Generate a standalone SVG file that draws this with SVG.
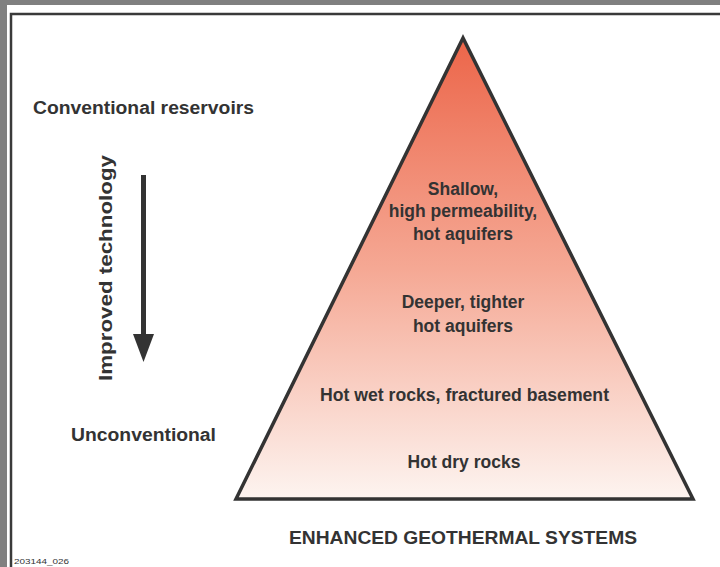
<svg xmlns="http://www.w3.org/2000/svg" width="720" height="567" viewBox="0 0 720 567">
<style>
.t{font-family:"Liberation Sans",Arial,sans-serif;font-weight:bold;fill:#333;}
.c{text-anchor:middle;font-size:17.5px;}
</style>
<defs>
<linearGradient id="g" x1="0" y1="38" x2="0" y2="499" gradientUnits="userSpaceOnUse">
<stop offset="0" stop-color="#ec6549"/>
<stop offset="0.5" stop-color="#f5a894"/>
<stop offset="1" stop-color="#fdf4f0"/>
</linearGradient>
</defs>
<rect x="0" y="0" width="720" height="567" fill="#808080"/>
<rect x="7" y="5" width="713" height="562" fill="#fff"/>
<path d="M11,567 V14 H720" fill="none" stroke="#3a3a3a" stroke-width="2.5"/>
<g id="pyramid">
<polygon points="463,38 236,499 693,499" fill="url(#g)" stroke="#333" stroke-width="3.5" stroke-linejoin="miter"/>
</g>
<g id="connectors">
<line x1="143.5" y1="175" x2="143.5" y2="336" stroke="#333" stroke-width="5"/>
<path d="M133,334 L154,334 L143.5,362 Z" fill="#333"/>
</g>
<g id="labels">
<text class="t" x="33" y="114" font-size="18" textLength="221" lengthAdjust="spacingAndGlyphs">Conventional reservoirs</text>
<text class="t" x="71" y="441" font-size="18" textLength="145" lengthAdjust="spacingAndGlyphs">Unconventional</text>
<text class="t" font-size="19" text-anchor="middle" textLength="226" lengthAdjust="spacingAndGlyphs" transform="translate(112,268) rotate(-90)">Improved technology</text>
<text class="t c" x="463" y="195">Shallow,</text>
<text class="t c" x="463" y="217">high permeability,</text>
<text class="t c" x="463" y="240">hot aquifers</text>
<text class="t c" x="463" y="308">Deeper, tighter</text>
<text class="t c" x="463" y="332">hot aquifers</text>
<text class="t c" x="464.5" y="401" textLength="289" lengthAdjust="spacingAndGlyphs">Hot wet rocks, fractured basement</text>
<text class="t c" x="464" y="468">Hot dry rocks</text>
<text class="t" x="463" y="544" font-size="19" text-anchor="middle" textLength="348" lengthAdjust="spacingAndGlyphs">ENHANCED GEOTHERMAL SYSTEMS</text>
<text x="14" y="564" font-family="'Liberation Sans',Arial,sans-serif" font-size="8" fill="#333" textLength="55" lengthAdjust="spacingAndGlyphs">203144_026</text>
</g>
</svg>
